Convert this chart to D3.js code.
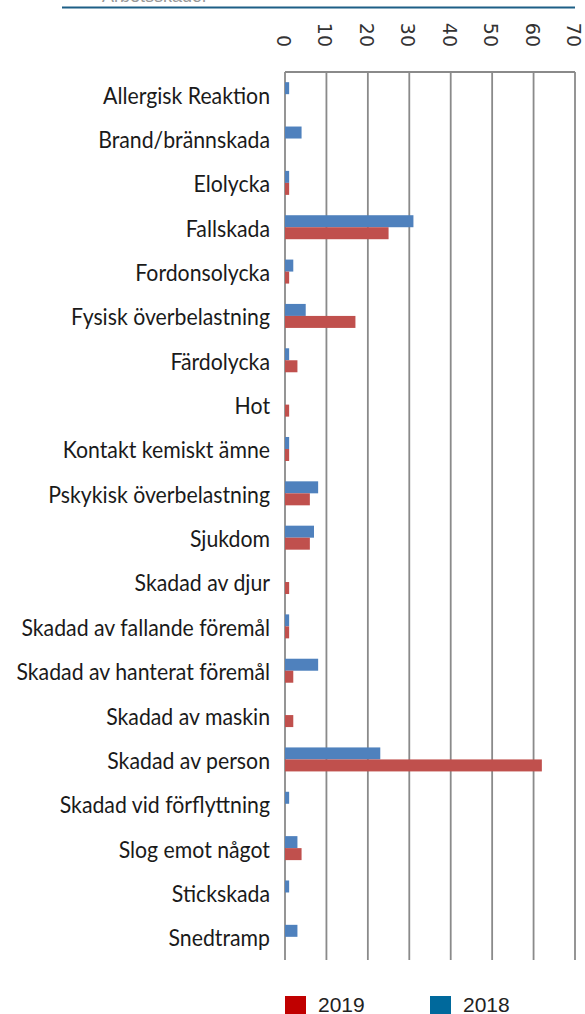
<!DOCTYPE html>
<html><head><meta charset="utf-8">
<script src="https://cdn.jsdelivr.net/npm/d3@7"></script>
<style>body{margin:0;background:#fff}</style>
</head><body>
<svg id="c" width="585" height="1014"></svg>
<script>
const categories = ["Allergisk Reaktion","Brand/brännskada","Elolycka","Fallskada","Fordonsolycka","Fysisk överbelastning","Färdolycka","Hot","Kontakt kemiskt ämne","Pskykisk överbelastning","Sjukdom","Skadad av djur","Skadad av fallande föremål","Skadad av hanterat föremål","Skadad av maskin","Skadad av person","Skadad vid förflyttning","Slog emot något","Stickskada","Snedtramp"];
const values2018 = [1,4,1,31,2,5,1,0,1,8,7,0,1,8,0,23,1,3,1,3];
const values2019 = [0,0,1,25,1,17,3,1,1,6,6,1,1,2,2,62,0,4,0,0];
const seriesNames = ["2018","2019"];
const xTicks = [0,10,20,30,40,50,60,70];
const legendLabels = ["2019","2018"];
const headerText = "Arbetsskador";

const svg = d3.select("#c");
const x = d3.scaleLinear().domain([0,70]).range([285,575]);
const y = d3.scaleBand().domain(categories).range([72,959]).paddingInner(0.459).paddingOuter(0.2295);
const ys = d3.scaleBand().domain(seriesNames).range([0,y.bandwidth()]);
const barColor = d3.scaleOrdinal().domain(seriesNames).range(["#4f81bd","#c0504d"]);
const legendColor = d3.scaleOrdinal().domain(legendLabels).range(["#c00000","#00699c"]);

// header sliver + line
svg.append("text").attr("x",155).attr("y",1.5).attr("text-anchor","middle")
  .attr("font-family","Liberation Sans, Arial").attr("font-size",18).attr("fill","#999").text(headerText);
svg.append("line").attr("x1",62).attr("x2",575).attr("y1",7.5).attr("y2",7.5)
  .attr("stroke","#1d5f86").attr("stroke-width",2);

// grid
const gridBottom = 960;
svg.append("g").selectAll("line").data(xTicks).join("line")
  .attr("x1",d=>x(d)).attr("x2",d=>x(d)).attr("y1",72).attr("y2",gridBottom)
  .attr("stroke","#8a8a8a").attr("stroke-width",1.8);
svg.append("line").attr("x1",x(0)).attr("x2",x(70)).attr("y1",72).attr("y2",72)
  .attr("stroke","#8a8a8a").attr("stroke-width",1.8);

// tick labels (rotated)
svg.append("g").selectAll("text").data(xTicks).join("text")
  .attr("transform",d=>`translate(${x(d)-1},47) rotate(90)`)
  .attr("text-anchor","end").attr("dominant-baseline","central")
  .attr("font-family","DejaVu Sans").attr("font-size",19).attr("fill","#333")
  .text(d=>d);

// bars
const rows = categories.map((c,i)=>({c, v:{"2018":values2018[i],"2019":values2019[i]}}));
const g = svg.append("g");
rows.forEach(r=>{
  seriesNames.forEach(s=>{
    if (r.v[s] > 0) {
      g.append("rect").attr("x",x(0)).attr("y",y(r.c)+ys(s))
        .attr("width",x(r.v[s])-x(0)).attr("height",ys.bandwidth())
        .attr("fill",barColor(s));
    }
  });
});

// category labels
const lab = svg.append("g").selectAll("text").data(categories).join("text")
  .attr("text-anchor","end").attr("dy","0.36em")
  .attr("font-family","Lato").attr("font-size",23.5).attr("fill","#1a1a1a")
  .text(d=>d);
const w0 = lab.nodes()[0].getComputedTextLength();
const sx = 167 / w0;
lab.attr("transform",d=>`translate(270,${y(d)+y.bandwidth()/2+1}) scale(${sx},1)`);

// legend
const lg = svg.append("g").selectAll("g").data(legendLabels).join("g")
  .attr("transform",(d,i)=>`translate(${[285,430][i]},0)`);
lg.append("rect").attr("x",0).attr("y",996).attr("width",21).attr("height",20).attr("fill",d=>legendColor(d));
lg.append("text").attr("x",33).attr("y",1012).attr("font-family","Liberation Sans, Arial")
  .attr("font-size",21).attr("fill","#222").text(d=>d);
</script>
</body></html>
